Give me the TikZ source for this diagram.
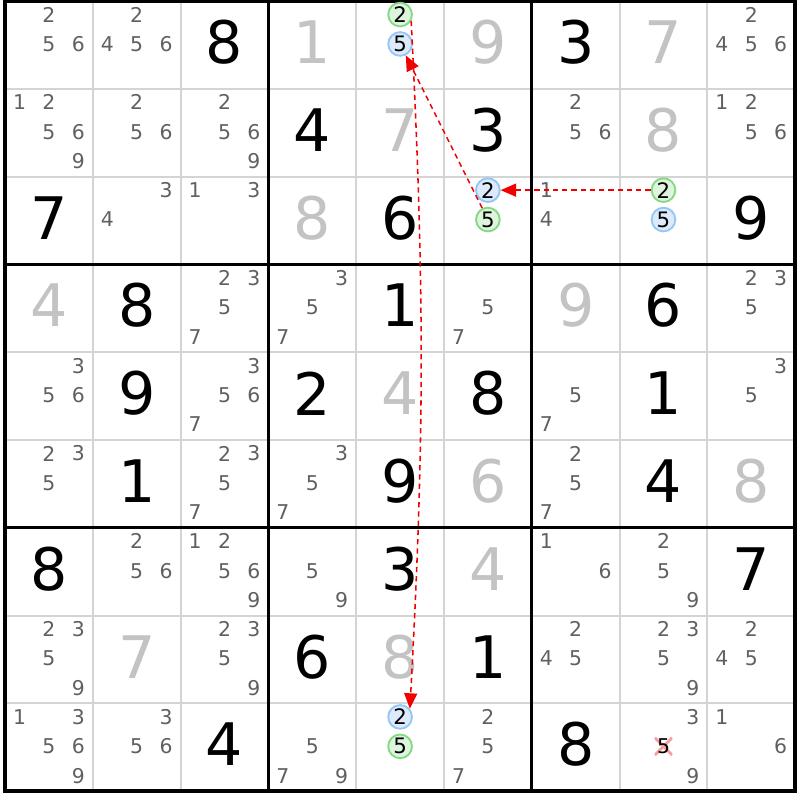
\documentclass[tikz,border=0pt]{standalone}
\usepackage{fontspec}
\setmainfont{DejaVu Sans}
\usetikzlibrary{arrows.meta}
\definecolor{pencil}{HTML}{606060}
\definecolor{solvedgray}{HTML}{C3C3C3}
\definecolor{cellline}{HTML}{D4D4D4}
\definecolor{ongreen}{HTML}{85D985}
\definecolor{ongreenfill}{HTML}{DDF5DD}
\definecolor{offblue}{HTML}{95C6F5}
\definecolor{offbluefill}{HTML}{DCEAFB}
\definecolor{chainred}{HTML}{F00000}
\definecolor{crosspink}{HTML}{F5A0A0}
\newcommand{\givencell}[3]{\node[given] (v#1#2) at (#1-0.5,9.53-#2) {#3};}
\newcommand{\solvedcell}[3]{\node[solved] (v#1#2) at (#1-0.5,9.53-#2) {#3};}
\newcommand{\cand}[4][cand]{\node[#1] (p#2#3#4) at ({#2-0.835+0.335*mod(#4-1,3)},{9.845-#3-0.335*floor((#4-1)/3)}) {#4};}
\newcommand{\cands}[3]{\foreach \dg in {#3}{\cand{#1}{#2}{\dg}}}

\begin{document}
\begin{tikzpicture}[
      cand/.style={text=pencil,font=\fontsize{6.6}{7}\selectfont,inner sep=0pt},
      given/.style={font=\fontsize{19}{20}\selectfont,inner sep=0pt},
      solved/.style={given,text=solvedgray},
      oncand/.style={cand,text=black,font=\fontsize{6.9}{7}\selectfont,circle,draw=ongreen,fill=ongreenfill,line width=0.6pt,minimum size=0.27cm},
      offcand/.style={oncand,draw=offblue,fill=offbluefill},
      struck/.style={cand,text=black,minimum size=0.2cm,path picture={
          \draw[crosspink,line width=0.9pt] (path picture bounding box.north west) -- (path picture bounding box.south east)
            (path picture bounding box.south west) -- (path picture bounding box.north east);}},
      chainlink/.style={chainred,line width=0.5pt,dash pattern=on 1.7pt off 1.3pt,-{Triangle[length=5pt,width=4.2pt]}},
      thingrid/.style={cellline,line width=0.65pt},
      boxgrid/.style={black,line width=1pt},
      outerframe/.style={black,line width=1.4pt}
    ]
    \useasboundingbox (-0.057,-0.100) rectangle (9.055,9.011);
    \fill[white] (-0.057,-0.100) rectangle (9.055,9.011);
    % Draw the grid.
    \draw[thingrid] (0,0) grid (9,9);
    \draw[boxgrid,step=3] (0,0) grid (9,9);
    \draw[outerframe] (0,0) rectangle (9,9);
    % Draw the givens and the solved cells.
    \givencell{3}{1}{8} \solvedcell{4}{1}{1} \solvedcell{6}{1}{9} \givencell{7}{1}{3} \solvedcell{8}{1}{7}
    \givencell{4}{2}{4} \solvedcell{5}{2}{7} \givencell{6}{2}{3} \solvedcell{8}{2}{8}
    \givencell{1}{3}{7} \solvedcell{4}{3}{8} \givencell{5}{3}{6} \givencell{9}{3}{9}
    \solvedcell{1}{4}{4} \givencell{2}{4}{8} \givencell{5}{4}{1} \solvedcell{7}{4}{9} \givencell{8}{4}{6}
    \givencell{2}{5}{9} \givencell{4}{5}{2} \solvedcell{5}{5}{4} \givencell{6}{5}{8} \givencell{8}{5}{1}
    \givencell{2}{6}{1} \givencell{5}{6}{9} \solvedcell{6}{6}{6} \givencell{8}{6}{4} \solvedcell{9}{6}{8}
    \givencell{1}{7}{8} \givencell{5}{7}{3} \solvedcell{6}{7}{4} \givencell{9}{7}{7}
    \solvedcell{2}{8}{7} \givencell{4}{8}{6} \solvedcell{5}{8}{8} \givencell{6}{8}{1}
    \givencell{3}{9}{4} \givencell{7}{9}{8}
    % Draw the candidates.
    \cands{1}{1}{2,5,6} \cands{2}{1}{2,4,5,6} \cands{9}{1}{2,4,5,6}
    \cands{1}{2}{1,2,5,6,9} \cands{2}{2}{2,5,6} \cands{3}{2}{2,5,6,9} \cands{7}{2}{2,5,6} \cands{9}{2}{1,2,5,6}
    \cands{2}{3}{3,4} \cands{3}{3}{1,3} \cands{7}{3}{1,4}
    \cands{3}{4}{2,3,5,7} \cands{4}{4}{3,5,7} \cands{6}{4}{5,7} \cands{9}{4}{2,3,5}
    \cands{1}{5}{3,5,6} \cands{3}{5}{3,5,6,7} \cands{7}{5}{5,7} \cands{9}{5}{3,5}
    \cands{1}{6}{2,3,5} \cands{3}{6}{2,3,5,7} \cands{4}{6}{3,5,7} \cands{7}{6}{2,5,7}
    \cands{2}{7}{2,5,6} \cands{3}{7}{1,2,5,6,9} \cands{4}{7}{5,9} \cands{7}{7}{1,6} \cands{8}{7}{2,5,9}
    \cands{1}{8}{2,3,5,9} \cands{3}{8}{2,3,5,9} \cands{7}{8}{2,4,5} \cands{8}{8}{2,3,5,9} \cands{9}{8}{2,4,5}
    \cands{1}{9}{1,3,5,6,9} \cands{2}{9}{3,5,6} \cands{4}{9}{5,7,9} \cands{6}{9}{2,5,7} \cands{8}{9}{3,9} \cands{9}{9}{1,6}
    \cand[struck]{8}{9}{5}
    % Draw the chain candidates.
    \cand[oncand]{5}{1}{2} \cand[offcand]{5}{1}{5}
    \cand[offcand]{6}{3}{2} \cand[oncand]{6}{3}{5}
    \cand[oncand]{8}{3}{2} \cand[offcand]{8}{3}{5}
    \cand[offcand]{5}{9}{2} \cand[oncand]{5}{9}{5}
    % Draw the links.
    \draw[chainlink] (p832) -- (p632);
    \draw[chainlink] (p635) -- (p515);
    \draw[chainlink] (p512.-30) to[bend left=3] (p592.40);
\end{tikzpicture}
\end{document}
